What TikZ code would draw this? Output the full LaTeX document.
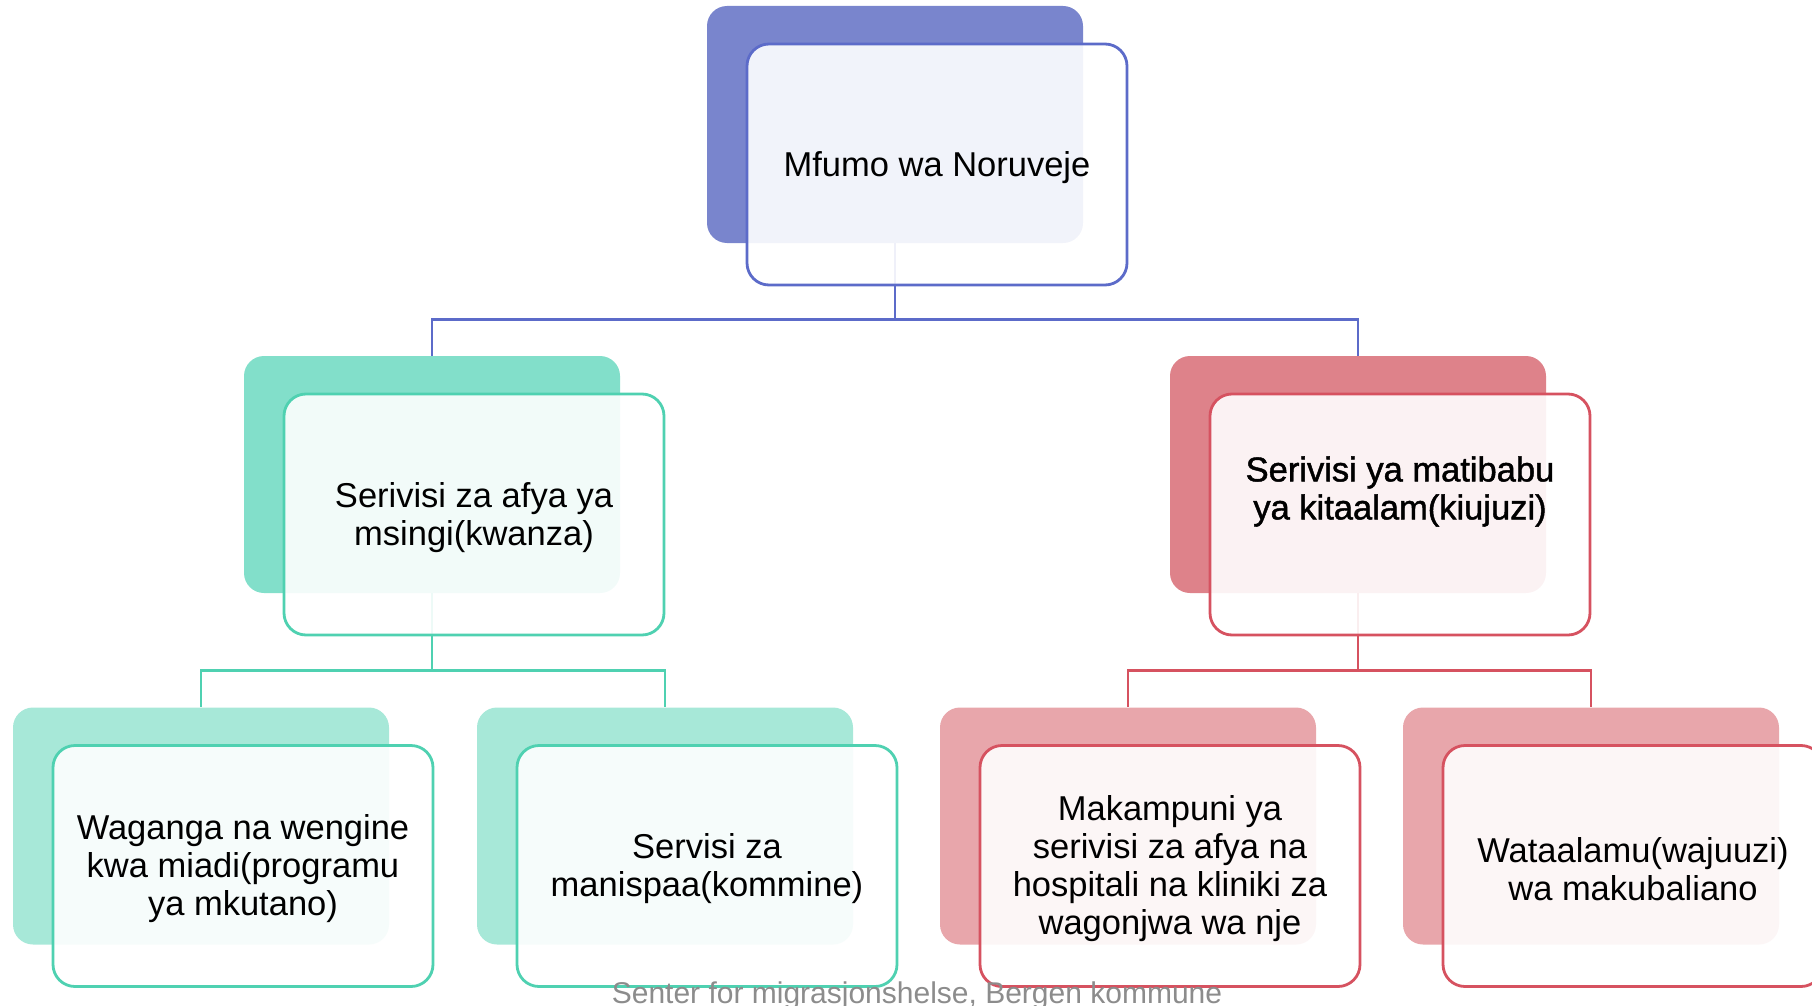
\documentclass[tikz,border=0pt]{standalone}
\usepackage{fontspec}
\setmainfont{Liberation Sans}
\newfontface\semib{Liberation Sans}[FakeBold=1.3]
\usetikzlibrary{calc}
\definecolor{blueback}{HTML}{7985CD}
\definecolor{blueline}{HTML}{5C6BC9}
\definecolor{greenback}{HTML}{82DFCA}
\definecolor{greenbackl}{HTML}{A7E8D8}
\definecolor{greenline}{HTML}{4FD1B1}
\definecolor{redback}{HTML}{DE828A}
\definecolor{redbackl}{HTML}{E8A6AB}
\definecolor{redline}{HTML}{D65260}
\definecolor{footgray}{HTML}{8C8C8C}
\tikzset{
  backbox/.style={rectangle, rounded corners=20pt, minimum width=376pt, minimum height=237pt, inner sep=0pt},
  frontbox/.style={rectangle, rounded corners=22pt, minimum width=380pt, minimum height=241pt,
    fill=white, fill opacity=0.9, line width=2.8pt, inner sep=0pt},
  txtnode/.style={align=center, inner sep=0pt, font=\fontsize{34.5}{38}\selectfont},
  conn/.style={line width=2.8pt},
  footer/.style={text=footgray, font=\fontsize{30}{34}\selectfont, inner sep=0pt, anchor=base}
}
\begin{document}
\begin{tikzpicture}[x=1pt,y=-1pt]
\useasboundingbox (0,0) rectangle (1812,1006);
\clip (0,0) rectangle (1812,1006);
% back boxes
\node[backbox, fill=blueback] (b0) at (895,124.5) {};
\node[backbox, fill=greenback] (b1) at (432,474.5) {};
\node[backbox, fill=redback] (b2) at (1358,474.5) {};
\node[backbox, fill=greenbackl] (b3) at (201,826) {};
\node[backbox, fill=greenbackl] (b4) at (665,826) {};
\node[backbox, fill=redbackl] (b5) at (1128,826) {};
\node[backbox, fill=redbackl] (b6) at (1591,826) {};
% connectors
\draw[conn, blueline] (b0.south) -- ++(0,76) coordinate (j0);
\draw[conn, blueline] (j0) -| (b1.north);
\draw[conn, blueline] (j0) -| (b2.north);
\draw[conn, greenline] (b1.south) -- ++(0,77) coordinate (j1);
\draw[conn, greenline] (j1) -| (b3.north);
\draw[conn, greenline] (j1) -| (b4.north);
\draw[conn, redline] (b2.south) -- ++(0,77) coordinate (j2);
\draw[conn, redline] (j2) -| (b5.north);
\draw[conn, redline] (j2) -| (b6.north);
% front boxes
\node[frontbox, draw=blueline] (f0) at ($(b0.center)+(42,40)$) {};
\node[frontbox, draw=greenline] (f1) at ($(b1.center)+(42,40)$) {};
\node[frontbox, draw=redline] (f2) at ($(b2.center)+(42,40)$) {};
\node[frontbox, draw=greenline] (f3) at ($(b3.center)+(42,40)$) {};
\node[frontbox, draw=greenline] (f4) at ($(b4.center)+(42,40)$) {};
\node[frontbox, draw=redline] (f5) at ($(b5.center)+(42,40)$) {};
\node[frontbox, draw=redline] (f6) at ($(b6.center)+(42,40)$) {};
% texts
\node[txtnode] (t0) at ([yshift=-3pt]f0.center) {Mfumo wa Noruveje};
\node[txtnode] (t1) at ([yshift=-3pt]f1.center) {Serivisi za afya ya\\msingi(kwanza)};
\node[txtnode, font=\fontsize{34.5}{38}\semib] (t2) at ([yshift=23pt]f2.center) {Serivisi ya matibabu\\ya kitaalam(kiujuzi)};
\node[txtnode] (t3) at ([yshift=-3pt]f3.center) {Waganga na wengine\\kwa miadi(programu\\ya mkutano)};
\node[txtnode] (t4) at ([yshift=-3pt]f4.center) {Servisi za\\manispaa(kommine)};
\node[txtnode] (t5) at ([yshift=-3pt]f5.center) {Makampuni ya\\serivisi za afya na\\hospitali na kliniki za\\wagonjwa wa nje};
\node[txtnode] (t6) at ([yshift=-3pt]f6.center) {Wataalamu(wajuuzi)\\wa makubaliano};
% footer
\node[footer] (ft) at (917,1003) {Senter for migrasjonshelse, Bergen kommune};
\end{tikzpicture}
\end{document}
